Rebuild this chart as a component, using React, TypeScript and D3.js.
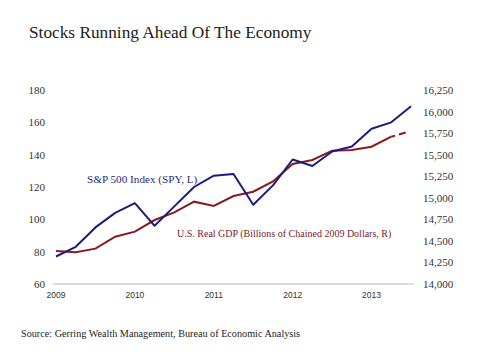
import React from "react";
import * as d3 from "d3";

// quarterly points, 2009 Q1 .. 2013 Q3
const quarters = [
  "2009Q1", "2009Q2", "2009Q3", "2009Q4",
  "2010Q1", "2010Q2", "2010Q3", "2010Q4",
  "2011Q1", "2011Q2", "2011Q3", "2011Q4",
  "2012Q1", "2012Q2", "2012Q3", "2012Q4",
  "2013Q1", "2013Q2", "2013Q3",
];
const spy = [77, 83, 95, 104, 110, 96, 108, 120, 127, 128, 109, 121, 137, 133, 142, 145, 156, 160, 170];
const gdp = [
  14383, 14368, 14410, 14549, 14607, 14742, 14830, 14955, 14905, 15020, 15070, 15190,
  15392, 15438, 15546, 15554, 15592, 15708, 15775,
];
const yearLabels = ["2009", "2010", "2011", "2012", "2013"];
const leftTicks = [60, 80, 100, 120, 140, 160, 180];
const rightTicks = [14000, 14250, 14500, 14750, 15000, 15250, 15500, 15750, 16000, 16250];

const W = 480;
const H = 360;
const serif = "'Liberation Serif', 'DejaVu Serif', serif";
const blue = "#1c1c7e";
const red = "#8a1a1e";

export default function App() {
  const x = d3.scaleLinear().domain([0, quarters.length - 1]).range([56, 411]);
  const yL = d3.scaleLinear().domain([60, 180]).range([284, 90]);
  const yR = d3.scaleLinear().domain([14000, 16250]).range([284, 90]);

  const spyLine = d3.line<number>().x((_, i) => x(i)).y((d) => yL(d));
  const gdpLine = d3.line<number>().x((_, i) => x(i)).y((d) => yR(d));

  const n = gdp.length;
  const gdpSolid = gdpLine(gdp.slice(0, n - 1)) ?? "";
  const gdpTail = d3.line<number>().x((_, i) => x(n - 2 + i)).y((d) => yR(d))(gdp.slice(n - 2)) ?? "";

  const fmt = d3.format(",");

  return (
    <svg width={W} height={H} style={{ position: "absolute", left: 0, top: 0, background: "#fff" }}>
      <text x={29} y={38} fontFamily={serif} fontSize={17.3} fill="#222">
        Stocks Running Ahead Of The Economy
      </text>

      {/* left axis labels */}
      {leftTicks.map((t) => (
        <text key={t} x={45} y={yL(t) + 4} textAnchor="end" fontFamily={serif} fontSize={11} fill="#333">
          {t}
        </text>
      ))}

      {/* right axis labels */}
      {rightTicks.map((t) => (
        <text key={t} x={423} y={yR(t) + 4} fontFamily={serif} fontSize={11} fill="#333">
          {fmt(t)}
        </text>
      ))}

      <line x1={53} x2={414} y1={284} y2={284} stroke="#bbb" strokeWidth={1} />

      {yearLabels.map((yr, i) => (
        <text
          key={yr}
          x={x(i * 4)}
          y={298}
          textAnchor="middle"
          fontFamily="'Liberation Sans', Arial, sans-serif"
          fontSize={8.5}
          fill="#333"
        >
          {yr}
        </text>
      ))}

      <path d={gdpSolid} fill="none" stroke={red} strokeWidth={2} />
      <path d={gdpTail} fill="none" stroke={red} strokeWidth={2} strokeDasharray="4 4 7 20" />
      <path d={spyLine(spy) ?? ""} fill="none" stroke={blue} strokeWidth={2} strokeLinejoin="round" />

      <text x={87} y={183} fontFamily={serif} fontSize={11.2} fill="#2a2a80">
        S&amp;P 500 Index (SPY, L)
      </text>
      <text x={177} y={237} fontFamily={serif} fontSize={10} fill="#7a2226">
        U.S. Real GDP (Billions of Chained 2009 Dollars, R)
      </text>

      <text x={21} y={337} fontFamily={serif} fontSize={10.2} fill="#222">
        Source: Gerring Wealth Management, Bureau of Economic Analysis
      </text>
    </svg>
  );
}
